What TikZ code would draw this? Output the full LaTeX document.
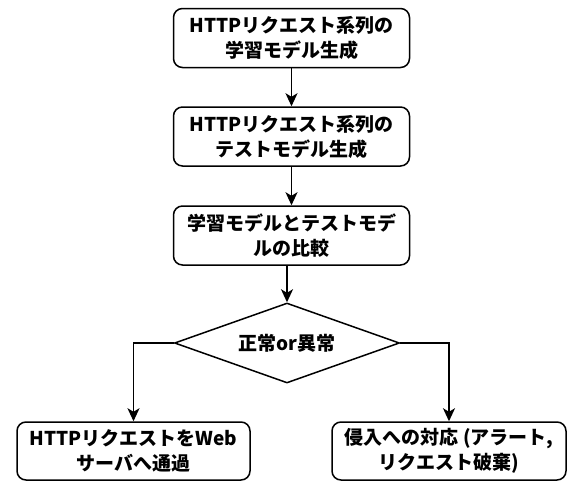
\documentclass[tikz,border=0pt]{standalone}
\usepackage{fontspec}
\setmainfont{Noto Sans CJK JP}
\usetikzlibrary{shapes.geometric,arrows.meta}
\begin{document}
\begin{tikzpicture}[x=1pt,y=-1pt,
  box/.style={draw,line width=1.5pt,rounded corners=9pt,minimum width=236pt,minimum height=59pt,align=center,inner sep=0pt,font=\fontsize{19}{25}\selectfont\bfseries},
  dec/.style={draw,line width=1.5pt,diamond,aspect=2.8125,minimum width=225pt,minimum height=80pt,inner sep=0pt,font=\fontsize{19}{25}\selectfont\bfseries},
  arr/.style={line width=1.5pt,-{Stealth[length=13pt,width=12pt,inset=3.5pt]}}]
\useasboundingbox (0,0) rectangle (568,482);
\node[box] (b1) at (291.5,38) {HTTPリクエスト系列の\\学習モデル生成};
\node[box] (b2) at (291.5,136.5) {HTTPリクエスト系列の\\テストモデル生成};
\node[box] (b3) at (291.5,235.5) {学習モデルとテストモデ\\ルの比較};
\node[dec] (d) at (287,343) {正常or異常};
\node[box,minimum width=233pt,minimum height=58pt] (l) at (133.5,451) {HTTPリクエストをWeb\\サーバへ通過};
\node[box,minimum width=234pt,minimum height=58pt] (r) at (449,451) {侵入への対応 (アラート,\\リクエスト破棄)};
\draw[arr] (b1) -- (b2);
\draw[arr] (b2) -- (b3);
\draw[arr] (b3.south -| d.north) -- (d.north);
\draw[arr] (d.west) -| (l.north);
\draw[arr] (d.east) -| (r.north);
\end{tikzpicture}
\end{document}
